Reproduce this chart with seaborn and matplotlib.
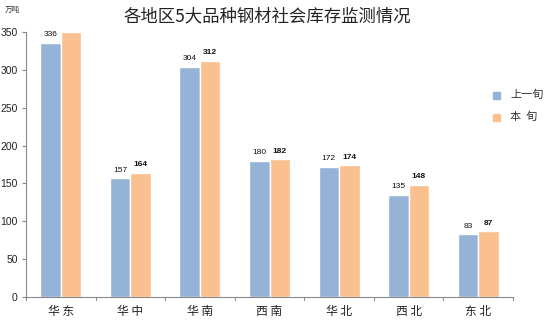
import matplotlib
matplotlib.use("Agg")
import matplotlib.pyplot as plt
import seaborn as sns
import pandas as pd

regions = ["华东", "华中", "华南", "西南", "华北", "西北", "东北"]
region_labels = ["华 东", "华 中", "华 南", "西 南", "华 北", "西 北", "东 北"]
prev_period = [336, 157, 304, 180, 172, 135, 83]
this_period = [350, 164, 312, 182, 174, 148, 87]
series_names = ["上一旬", "本  旬"]
y_ticks = [0, 50, 100, 150, 200, 250, 300, 350]

df = pd.DataFrame({
    "地区": regions * 2,
    "库存": prev_period + this_period,
    "时期": [series_names[0]] * len(regions) + [series_names[1]] * len(regions),
})

sns.set_style("white")
plt.rcParams["font.family"] = ["Noto Sans CJK SC", "DejaVu Sans"]

fig = plt.figure(figsize=(5.56, 3.2), dpi=100)
ax = fig.add_axes([26 / 556, 1 - 297 / 320, (513 - 26) / 556, (297 - 32) / 320])

colors = ["#95B3D7", "#FAC090"]
sns.barplot(data=df, x="地区", y="库存", hue="时期", order=regions,
            hue_order=series_names, palette=colors, width=0.59,
            saturation=1, ax=ax, legend=False)

ax.set_ylim(0, 350)
ax.set_xlim(-0.5, len(regions) - 0.5)
ax.set_yticks(y_ticks)
ax.set_yticklabels([str(v) for v in y_ticks], family="Liberation Sans", fontsize=7.5,
                   color="#222222")
ax.set_xticks(range(len(regions)))
ax.set_xticklabels(region_labels, fontsize=8.5, color="#222222")
ax.tick_params(axis="x", length=0, pad=6)
ax.tick_params(axis="y", length=3, width=0.8, color="#888888", left=True, pad=3)
ax.set_xlabel("")
ax.set_ylabel("")

# category boundary ticks along the bottom axis
for b in [i - 0.5 for i in range(len(regions) + 1)]:
    ax.plot([b, b], [0, -4], color="#888888", lw=0.8, clip_on=False)

for side in ["top", "right"]:
    ax.spines[side].set_visible(False)
for side in ["left", "bottom"]:
    ax.spines[side].set_color("#888888")
    ax.spines[side].set_linewidth(0.8)

# value labels (the top label for 华东 falls outside the plot)
prev_bars, this_bars = ax.containers[0], ax.containers[1]
for bar, v in zip(prev_bars, prev_period):
    ax.text(bar.get_x() + bar.get_width() / 2, v + 6, str(v), ha="center",
            va="bottom", fontsize=6, family="Liberation Sans", color="#111111")
for bar, v in zip(this_bars, this_period):
    if v >= 350:
        continue
    ax.text(bar.get_x() + bar.get_width() / 2, v + 6, str(v), ha="center",
            va="bottom", fontsize=6, family="Liberation Sans", fontweight="bold",
            color="#111111")

fig.text(267 / 556, 1 - 16 / 320, "各地区5大品种钢材社会库存监测情况", ha="center",
         va="center", fontsize=12.5, color="#222222")
fig.text(5 / 556, 1 - 10 / 320, "万吨", ha="left", va="center", fontsize=5.5,
         color="#333333")

# legend
for i, (name, c) in enumerate(zip(series_names, colors)):
    y = 1 - (95 + 22 * i) / 320
    fig.patches.append(plt.Rectangle((493 / 556, y - 3.5 / 320), 7 / 556, 7 / 320,
                                     transform=fig.transFigure, color=c))
    fig.text(510 / 556, y, name, ha="left", va="center", fontsize=8,
             color="#333333")

fig.savefig("out.png", dpi=100)
